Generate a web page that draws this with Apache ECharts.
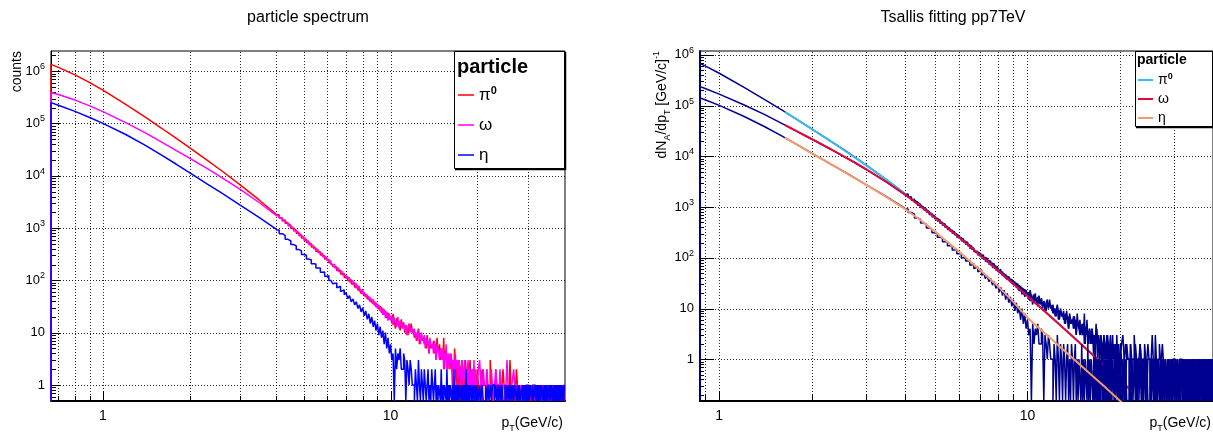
<!DOCTYPE html>
<html>
<head>
<meta charset="utf-8">
<script src="https://cdn.jsdelivr.net/npm/echarts@6/dist/echarts.min.js"></script>
<style>
  html, body { margin: 0; padding: 0; background: #fff; }
  #chart { width: 1213px; height: 432px; }
</style>
</head>
<body>
<div id="chart"></div>
<script>
const FONT = '"Liberation Sans", Arial, Helvetica, sans-serif';

// ---------------- data ----------------
// low-pT points (pT in GeV/c), shared by the three species
const ptLow = [0.66, 0.7, 0.8, 0.9, 1.0, 1.2, 1.4, 1.6, 1.8, 2.0, 2.3, 2.6, 3.0, 3.5, 4.0];
const pi0Low   = [1.35e6, 1.18e6, 8.47e5, 6.05e5, 4.34e5, 2.31e5, 1.33e5, 8.1e4, 5.19e4, 3.45e4, 1.99e4, 1.22e4, 6.7e3, 3.41e3, 1.85e3];
const omegaLow = [3.9e5, 3.57e5, 2.8e5, 2.17e5, 1.68e5, 1.04e5, 6.7e4, 4.4e4, 3.02e4, 2.17e4, 1.38e4, 9.1e3, 5.5e3, 3.05e3, 1.75e3];
const etaLow   = [2.5e5, 2.235e5, 1.7e5, 1.304e5, 1.007e5, 6.15e4, 3.87e4, 2.49e4, 1.66e4, 1.147e4, 7.0e3, 4.6e3, 2.74e3, 1.58e3, 950];

// high-pT histogram blocks: [low edge, bin width]
const tailBlocks = [[4.0, 0.1], [10.0, 0.1], [20.0, 0.2]];

const pi0TailA = [1800, 1560, 1420, 1230, 1130, 985, 905, 795, 735, 645,
                  600, 528, 497, 436, 414, 362, 350, 304, 294, 255,
                  250, 217, 213, 185, 180, 155, 156, 133, 135, 113,
                  118, 98, 103, 85, 90, 74, 79, 64, 70, 56,
                  62, 50, 55, 44, 49, 39, 44, 35, 39, 31,
                  35, 28, 32, 24, 29, 22, 26, 19, 24, 18];
const pi0TailB = [20, 15, 23, 17, 12, 19, 14, 16, 11, 18,
                  13, 15, 10, 14, 12, 9, 13, 11, 15, 10,
                  11, 8, 10, 7, 9, 12, 6, 9, 8, 7,
                  8, 6, 7, 5, 9, 6, 4, 7, 5, 6,
                  5, 7, 4, 6, 3, 8, 5, 4, 6, 3,
                  4, 5, 3, 8, 2, 4, 5, 3, 2, 4,
                  3, 2, 4, 3, 1, 3, 2, 5, 2, 1,
                  3, 2, 1, 3, 2, 0, 2, 3, 1, 2,
                  2, 1, 3, 2, 1, 2, 0, 1, 2, 3,
                  1, 2, 1, 0, 2, 1, 2, 1, 0, 1];
const pi0TailC = [2, 1, 0, 1, 2, 1, 1, 0, 2, 1,
                  1, 3, 1, 0, 1, 1, 2, 1, 0, 1,
                  1, 0, 1, 2, 1, 1, 0, 1, 1, 0,
                  3, 1, 0, 1, 1, 0, 1, 2, 1, 0,
                  1, 1, 0, 1, 0, 1, 1, 0, 1, 1,
                  0, 1, 1, 0, 1, 0, 1, 1, 1, 0,
                  1, 0, 1, 1, 0, 1, 0, 1, 1, 0,
                  1, 1, 0, 1, 0, 1, 1, 0, 1, 0,
                  1, 0, 1, 1, 0, 1, 0, 1, 0, 1,
                  1, 0, 1, 0, 1, 1, 0, 1, 0, 1,
                  1, 0];

const omegaTailA = [1720, 1570, 1360, 1250, 1090, 1000, 880, 815, 715, 672,
                    588, 556, 482, 462, 402, 384, 336, 326, 284, 276,
                    242, 236, 204, 202, 172, 170, 148, 146, 127, 126,
                    108, 113, 93, 99, 82, 87, 71, 77, 62, 67,
                    54, 59, 48, 53, 42, 47, 37, 43, 33, 38,
                    29, 34, 26, 31, 22, 28, 19, 25, 17, 23];
const omegaTailB = [18, 21, 14, 19, 16, 13, 20, 12, 17, 14,
                    12, 16, 11, 14, 9, 13, 15, 10, 12, 11,
                    9, 12, 8, 10, 7, 11, 9, 6, 10, 8,
                    7, 9, 5, 8, 6, 7, 4, 8, 6, 5,
                    6, 4, 7, 5, 3, 6, 5, 4, 3, 5,
                    4, 3, 5, 2, 4, 3, 6, 2, 3, 4,
                    2, 3, 4, 2, 3, 1, 3, 2, 4, 2,
                    3, 1, 2, 3, 2, 2, 1, 3, 2, 1,
                    2, 3, 1, 2, 0, 2, 3, 1, 2, 1,
                    2, 1, 0, 2, 1, 3, 1, 2, 1, 0];
const omegaTailC = [1, 2, 3, 1, 0, 2, 1, 1, 2, 0,
                    1, 1, 2, 1, 0, 1, 2, 1, 1, 0,
                    2, 1, 0, 1, 1, 0, 1, 3, 1, 0,
                    1, 0, 1, 1, 2, 1, 0, 1, 1, 0,
                    1, 0, 1, 1, 0, 1, 1, 0, 1, 1,
                    1, 1, 0, 1, 1, 0, 1, 0, 1, 1,
                    0, 1, 1, 0, 1, 1, 0, 1, 0, 1,
                    1, 0, 1, 0, 1, 1, 0, 1, 1, 0,
                    0, 1, 1, 0, 1, 0, 1, 1, 0, 1,
                    1, 1, 0, 1, 0, 1, 1, 0, 1, 0,
                    1, 1];

const etaTailA = [915, 780, 722, 610, 570, 486, 458, 388, 370, 312,
                  302, 255, 249, 208, 206, 172, 173, 143, 145, 120,
                  123, 100, 104, 86, 89, 72, 77, 61, 66, 53,
                  58, 45, 51, 39, 44, 34, 39, 29, 34, 25,
                  30, 21, 26, 18, 23, 15, 20, 13, 17, 11,
                  15, 9, 13, 8, 11, 6, 10, 5, 8, 4];
const etaTailB = [6, 3, 4, 0, 5, 2, 4, 3, 5, 2,
                  2, 4, 3, 0, 3, 2, 1, 3, 2, 1,
                  1, 0, 2, 1, 0, 3, 1, 0, 2, 1,
                  0, 2, 1, 0, 1, 2, 0, 1, 0, 2,
                  1, 0, 1, 2, 0, 1, 0, 1, 1, 0,
                  2, 0, 1, 0, 1, 1, 0, 2, 0, 1,
                  0, 1, 1, 0, 1, 0, 2, 0, 1, 0,
                  1, 0, 1, 0, 1, 1, 0, 1, 0, 1,
                  0, 1, 0, 2, 0, 1, 0, 1, 0, 1,
                  1, 0, 1, 0, 0, 1, 0, 1, 1, 0];
const etaTailC = [1, 0, 1, 0, 1, 0, 0, 1, 0, 1,
                  0, 1, 0, 1, 1, 0, 1, 0, 1, 0,
                  1, 0, 1, 0, 0, 1, 0, 1, 0, 1,
                  0, 1, 0, 1, 0, 1, 1, 0, 1, 0,
                  1, 0, 0, 1, 0, 1, 0, 1, 0, 1,
                  0, 1, 0, 1, 1, 0, 1, 0, 0, 1,
                  0, 1, 0, 1, 0, 1, 0, 1, 1, 0,
                  1, 0, 1, 0, 1, 0, 0, 1, 0, 1,
                  0, 1, 1, 0, 1, 0, 1, 0, 1, 0,
                  1, 0, 1, 0, 1, 0, 1, 1, 0, 1,
                  0, 1];

// Tsallis fit curves
const ptFit    = [1.63, 1.8, 2.0, 2.25, 2.5, 2.75, 3.0, 3.5, 4.0, 4.5, 5.0, 6.0, 7.0, 8.0, 9.0, 10, 12, 14, 16, 18, 20, 22];
const pi0Fit   = [7.5e4, 5.15e4, 3.42e4, 2.15e4, 1.41e4, 9.52e3, 6.62e3, 3.39e3, 1.845e3, 1.054e3, 629, 253, 115, 57.5, 31, 17.7, 6.63, 2.84, 1.354, 0.70, 0.386, 0.224];
const omegaFit = [4.15e4, 3.02e4, 2.17e4, 1.484e4, 1.048e4, 7.57e3, 5.55e3, 3.08e3, 1.765e3, 1.04e3, 627, 252, 115, 57.3, 30.9, 17.7, 6.6, 2.83, 1.35, 0.698, 0.385, 0.224];
const etaFit   = [2.34e4, 1.66e4, 1.147e4, 7.58e3, 5.24e3, 3.735e3, 2.73e3, 1.556e3, 924, 550, 332, 131, 57.9, 28, 13.5, 6.6, 2.45, 1.06, 0.51, 0.27, 0.15, 0.09];

// axis ranges and grid lines
const leftRange  = { xMin: 0.66, xMax: 40.4, yMin: 0.494, yMax: 2.43e6 };
const rightRange = { xMin: 0.866, xMax: 40, yMin: 0.1505, yMax: 1.19e6 };
const leftXGrid  = [0.7, 0.8, 0.9, 1, 2, 3, 4, 5, 6, 7, 8, 9, 10, 20, 30];
const rightXGrid = [0.9, 1, 2, 3, 4, 5, 6, 7, 8, 9, 10, 20, 30];
const yDecades   = [1, 10, 1e2, 1e3, 1e4, 1e5, 1e6];

// ---------------- builders ----------------
function tailPart(blocks, floor) {
  const pts = [];
  let last = null, lastEdge = null;
  blocks.forEach((counts, b) => {
    const [start, w] = tailBlocks[b];
    counts.forEach((c, j) => {
      const v = c > 0 ? c : floor;
      pts.push([+(start + j * w).toFixed(3), v]);
      last = v;
      lastEdge = +(start + (j + 1) * w).toFixed(3);
    });
  });
  pts.push([lastEdge, last]);
  return pts;
}
const pi0Blocks = [pi0TailA, pi0TailB, pi0TailC];
const omegaBlocks = [omegaTailA, omegaTailB, omegaTailC];
const etaBlocks = [etaTailA, etaTailB, etaTailC];

function histSeries(name, color, width, idx, low, blocks, floor, z) {
  const common = {
    name, type: 'line', xAxisIndex: idx, yAxisIndex: idx, symbol: 'none', showSymbol: false,
    lineStyle: { color, width }, itemStyle: { color }, clip: true, silent: true, z
  };
  const lowPts = [[ptLow[0], floor]].concat(ptLow.map((p, i) => [p, low[i]]));
  return [
    Object.assign({}, common, { data: lowPts }),
    Object.assign({}, common, { data: tailPart(blocks, floor), step: 'end' })
  ];
}
function fitSeries(name, color, vals, z) {
  return {
    name, type: 'line', xAxisIndex: 1, yAxisIndex: 1, symbol: 'none', showSymbol: false,
    clip: true, silent: true, z,
    lineStyle: { color, width: 2 }, itemStyle: { color },
    data: ptFit.map((p, i) => [p, vals[i]])
  };
}

function minorValues(r) {
  const out = [];
  for (let k = Math.floor(Math.log10(r.yMin)); k <= Math.ceil(Math.log10(r.yMax)); k++) {
    for (let m = 2; m <= 9; m++) {
      const v = m * Math.pow(10, k);
      if (v > r.yMin && v < r.yMax) out.push(v);
    }
  }
  return out;
}

function frameDecor(idx, r, xGrid, tick) {
  const xMajor = [1, 10];
  return {
    type: 'custom', xAxisIndex: idx, yAxisIndex: idx, silent: true, z: 1,
    data: [[r.xMin, r.yMin]],
    renderItem: function (params, api) {
      const kids = [];
      const snap = v => Math.round(v) + 0.5;
      const dotted = { stroke: '#000', lineWidth: 1, lineDash: [1, 2], opacity: 0.85 };
      const solid = { stroke: '#000', lineWidth: 1 };
      xGrid.forEach(v => {
        const a = api.coord([v, r.yMin]), b = api.coord([v, r.yMax]);
        kids.push({ type: 'line', shape: { x1: snap(a[0]), y1: a[1], x2: snap(a[0]), y2: b[1] }, style: dotted });
        const len = xMajor.indexOf(v) >= 0 ? tick.xMajor : tick.xMinor;
        kids.push({ type: 'line', shape: { x1: snap(a[0]), y1: a[1], x2: snap(a[0]), y2: a[1] - len }, style: solid });
      });
      yDecades.forEach(v => {
        const a = api.coord([r.xMin, v]), b = api.coord([r.xMax, v]);
        kids.push({ type: 'line', shape: { x1: a[0], y1: snap(a[1]), x2: b[0], y2: snap(a[1]) }, style: dotted });
        kids.push({ type: 'line', shape: { x1: a[0], y1: snap(a[1]), x2: a[0] + tick.yMajor, y2: snap(a[1]) }, style: solid });
      });
      minorValues(r).forEach(v => {
        const a = api.coord([r.xMin, v]);
        kids.push({ type: 'line', shape: { x1: a[0], y1: snap(a[1]), x2: a[0] + tick.yMinor, y2: snap(a[1]) }, style: solid });
      });
      return { type: 'group', children: kids };
    }
  };
}

// ---------------- axes ----------------
function xLabel(v) {
  const e = Math.round(Math.log10(v));
  if (Math.abs(Math.log10(v) - e) > 1e-6) return '';
  return e === 0 ? '1' : (e === 1 ? '10' : '');
}
function yLabel(v) {
  const e = Math.round(Math.log10(v));
  if (Math.abs(Math.log10(v) - e) > 1e-6) return '';
  if (e === 0) return '1';
  if (e === 1) return '10';
  return '10{sup|' + e + '}';
}
function xAxis(idx, r) {
  return {
    type: 'log', gridIndex: idx, min: r.xMin, max: r.xMax,
    axisLine: { show: true, lineStyle: { color: '#000', width: 2 } },
    axisTick: { show: false }, splitLine: { show: false }, minorTick: { show: false },
    axisLabel: { formatter: xLabel, fontFamily: FONT, fontSize: 14, color: '#000', margin: 8,
                 showMinLabel: false, showMaxLabel: false }
  };
}
function yAxis(idx, r, lineColor, lineWidth) {
  return {
    type: 'log', gridIndex: idx, min: r.yMin, max: r.yMax,
    axisLine: { show: true, lineStyle: { color: lineColor, width: lineWidth } },
    axisTick: { show: false }, splitLine: { show: false }, minorTick: { show: false },
    axisLabel: {
      formatter: yLabel, fontFamily: FONT, fontSize: 13, color: '#000', margin: 6,
      showMinLabel: false, showMaxLabel: false, lineHeight: 18,
      rich: { sup: { fontFamily: FONT, fontSize: 9, color: '#000', verticalAlign: 'top', lineHeight: 10 } }
    }
  };
}

// ---------------- legends ----------------
function legendName(name) {
  const key = name.split(' ')[0];
  if (key === 'π0') return '{g|π}{s|0}';
  return '{g|' + key + '}';
}
function legend(names, left, top, size, gap, iconH) {
  return {
    data: names, orient: 'vertical', left, top, padding: 0, itemGap: gap, z: 20,
    itemWidth: size.icon, itemHeight: iconH, icon: 'rect', selectedMode: false,
    formatter: legendName,
    textStyle: {
      fontFamily: FONT, color: '#000', fontSize: size.font, lineHeight: size.line,
      rich: {
        g: { fontFamily: FONT, fontSize: size.font, color: '#000', lineHeight: size.line },
        s: { fontFamily: FONT, fontSize: size.sup, fontWeight: 'bold', color: '#000', verticalAlign: 'top', lineHeight: size.sup + 1 }
      }
    }
  };
}

// ---------------- text ----------------
const richAxis = {
  n: { fontFamily: FONT, fontSize: 14, fill: '#000', lineHeight: 20, verticalAlign: 'middle' },
  sub: { fontFamily: FONT, fontSize: 9, fill: '#000', lineHeight: 9, verticalAlign: 'bottom' },
  sup: { fontFamily: FONT, fontSize: 9, fill: '#000', lineHeight: 9, verticalAlign: 'top' }
};
function text(x, y, str, opts) {
  return Object.assign({
    type: 'text', x, y, silent: true,
    style: Object.assign({ text: str, fontFamily: FONT, fill: '#000', align: 'left', verticalAlign: 'middle' }, opts.style || {})
  }, opts.el || {});
}
function legendBox(x, y, w, h) {
  return [
    { type: 'rect', silent: true, z: 5, shape: { x: x + 0.5, y: y + 0.5, width: w, height: h },
      style: { fill: '#fff', stroke: '#000', lineWidth: 1 } },
    { type: 'line', silent: true, z: 5, shape: { x1: x + 1, y1: y + h + 1.5, x2: x + w + 1, y2: y + h + 1.5 },
      style: { stroke: '#000', lineWidth: 1.5 } },
    { type: 'line', silent: true, z: 5, shape: { x1: x + w + 1.5, y1: y + 1, x2: x + w + 1.5, y2: y + h + 2 },
      style: { stroke: '#000', lineWidth: 1.5 } }
  ];
}

const NAVY = '#00008f';

const option = {
  animation: false,
  backgroundColor: '#fff',
  grid: [
    { left: 51, top: 51, width: 514, height: 350, show: true, borderColor: '#000', borderWidth: 1, backgroundColor: 'transparent' },
    { left: 700, top: 51, width: 513, height: 350, show: true, borderColor: '#000', borderWidth: 1, backgroundColor: 'transparent' }
  ],
  xAxis: [xAxis(0, leftRange), xAxis(1, rightRange)],
  yAxis: [yAxis(0, leftRange, '#000', 1), yAxis(1, rightRange, NAVY, 2)],
  legend: [
    legend(['π0', 'ω', 'η'], 458, 85, { icon: 16, font: 17, line: 20, sup: 11 }, 10, 1.5),
    legend(['π0 fit', 'ω fit', 'η fit'], 1138, 72, { icon: 15, font: 14, line: 16, sup: 9 }, 3, 2)
  ],
  graphic: [
    text(308, 18, 'particle spectrum', { style: { fontSize: 16, align: 'center' } }),
    text(953, 18, 'Tsallis fitting pp7TeV', { style: { fontSize: 16, align: 'center' } }),
    text(17, 51, 'counts', { style: { fontSize: 14, align: 'right' }, el: { rotation: Math.PI / 2 } }),
    text(662, 51, '{n|dN}{sub|A}{n|/dp}{sub|T}{n| [GeV/c]}{sup|-1}',
         { style: { align: 'right', rich: richAxis }, el: { rotation: Math.PI / 2 } }),
    text(563, 423, '{n|p}{sub|T}{n|(GeV/c)}', { style: { align: 'right', rich: richAxis } }),
    text(1211, 423, '{n|p}{sub|T}{n|(GeV/c)}', { style: { align: 'right', rich: richAxis } }),
    ...legendBox(454, 51, 110, 117),
    text(457, 67, 'particle', { style: { fontSize: 20, fontWeight: 'bold', align: 'left' }, el: { z: 6 } }),
    ...legendBox(1135, 51, 77, 75),
    text(1137, 60, 'particle', { style: { fontSize: 14, fontWeight: 'bold', align: 'left' }, el: { z: 6 } })
  ],
  series: [
    frameDecor(0, leftRange, leftXGrid, { xMajor: 10, xMinor: 5, yMajor: 9, yMinor: 5 }),
    frameDecor(1, rightRange, rightXGrid, { xMajor: 10, xMinor: 7, yMajor: 14, yMinor: 4 }),
    // left panel: raw spectra
    ...histSeries('π0', '#ff0000', 1.5, 0, pi0Low, pi0Blocks, leftRange.yMin, 3),
    ...histSeries('ω', '#ff00ff', 1.5, 0, omegaLow, omegaBlocks, leftRange.yMin, 4),
    ...histSeries('η', '#0000ff', 1.5, 0, etaLow, etaBlocks, leftRange.yMin, 5),
    // right panel: spectra with their Tsallis fits
    ...histSeries('π0 data', NAVY, 1.5, 1, pi0Low, pi0Blocks, rightRange.yMin, 3),
    fitSeries('π0 fit', '#3dbcf0', pi0Fit, 4),
    ...histSeries('ω data', NAVY, 1.5, 1, omegaLow, omegaBlocks, rightRange.yMin, 5),
    fitSeries('ω fit', '#e4063a', omegaFit, 6),
    ...histSeries('η data', NAVY, 1.5, 1, etaLow, etaBlocks, rightRange.yMin, 7),
    fitSeries('η fit', '#f59a68', etaFit, 8)
  ]
};

const chart = echarts.init(document.getElementById('chart'), null, { renderer: 'canvas' });
chart.setOption(option);
</script>
</body>
</html>
